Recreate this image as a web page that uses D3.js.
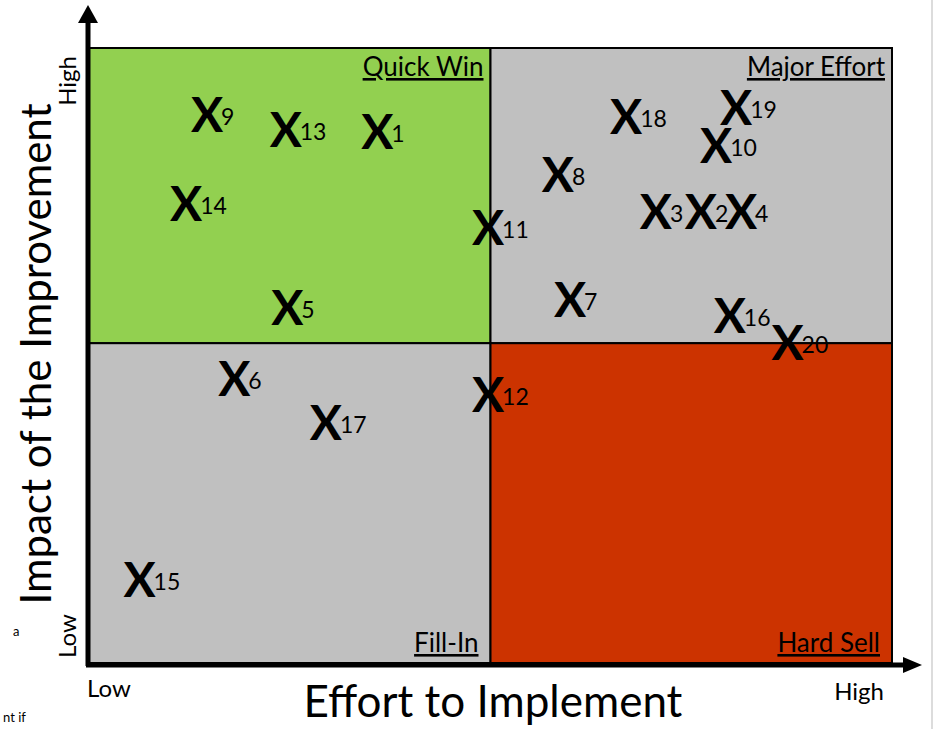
<!DOCTYPE html>
<html>
<head>
<meta charset="utf-8">
<script src="https://cdn.jsdelivr.net/npm/d3@7"></script>
<style>
  html, body { margin: 0; padding: 0; background: #fff; }
  svg { display: block; font-family: Lato, "Open Sans", sans-serif; }
</style>
</head>
<body>
<svg id="chart" width="934" height="729"></svg>
<script>
// ---- data ----
const itemIds = [1, 2, 3, 4, 5, 6, 7, 8, 9, 10, 11, 12, 13, 14, 15, 16, 17, 18, 19, 20];
const effort  = [3.59, 7.62, 7.06, 8.12, 2.47, 1.81, 5.99, 5.84, 1.47, 7.81, 4.97, 4.97, 2.45, 1.21, 0.63, 7.98, 2.95, 6.69, 8.06, 8.70];
const impact  = [8.63, 7.33, 7.33, 7.33, 5.78, 4.61, 5.91, 7.93, 8.91, 8.40, 7.08, 4.35, 8.66, 7.46, 1.35, 5.65, 3.91, 8.88, 9.02, 5.20];
const quadrantNames = ["Quick Win", "Major Effort", "Fill-In", "Hard Sell"];
const quadrantX0 = [0, 5, 0, 5];
const quadrantX1 = [5, 10, 5, 10];
const quadrantY0 = [5.2, 5.2, 0, 0];
const quadrantY1 = [10, 10, 5.2, 5.2];
const quadrantColors = ["#92D050", "#C0C0C0", "#C0C0C0", "#CC3300"];
const axisLowHigh = ["Low", "High"];
const xTitle = "Effort to Implement";
const yTitle = "Impact of the Improvement";

const svg = d3.select("#chart");
const x = d3.scaleLinear().domain([0, 10]).range([89, 892]);
const y = d3.scaleLinear().domain([0, 10]).range([663, 48]);

// faint page edge line at right
svg.append("line").attr("x1", 932).attr("x2", 932).attr("y1", 0).attr("y2", 729)
  .attr("stroke", "#dcdcdc").attr("stroke-width", 2);

// quadrants
const quads = quadrantNames.map((n, i) => ({name: n, x0: quadrantX0[i], x1: quadrantX1[i], y0: quadrantY0[i], y1: quadrantY1[i], color: quadrantColors[i]}));
svg.selectAll("rect.quad").data(quads).enter().append("rect")
  .attr("class", "quad")
  .attr("x", d => x(d.x0)).attr("y", d => y(d.y1))
  .attr("width", d => x(d.x1) - x(d.x0)).attr("height", d => y(d.y0) - y(d.y1))
  .attr("fill", d => d.color).attr("stroke", "#000").attr("stroke-width", 2);

// quadrant labels (underlined, right-aligned)
svg.selectAll("text.qlabel").data(quads).enter().append("text")
  .attr("class", "qlabel")
  .attr("x", d => x(d.x1) - (d.y1 === 10 ? 7 : 12))
  .attr("y", d => d.y1 === 10 ? y(d.y1) + 28 : y(d.y0) - 11)
  .attr("text-anchor", "end")
  .attr("font-size", 26)
  .attr("text-decoration", "underline")
  .attr("fill", "#000")
  .text(d => d.name);

// axes with arrows
svg.append("line").attr("x1", 88).attr("x2", 88).attr("y1", y(0) + 3).attr("y2", 22)
  .attr("stroke", "#000").attr("stroke-width", 5);
svg.append("path").attr("d", "M78,23 L88,5 L98,23 Z").attr("fill", "#000");
svg.append("line").attr("x1", 86).attr("x2", 905).attr("y1", 665).attr("y2", 665)
  .attr("stroke", "#000").attr("stroke-width", 5);
svg.append("path").attr("d", "M903,657 L922,665 L903,673 Z").attr("fill", "#000");

// Low / High labels
svg.append("text").attr("x", 87).attr("y", 697).attr("font-size", 24).text(axisLowHigh[0]);
svg.append("text").attr("x", 884).attr("y", 700).attr("text-anchor", "end").attr("font-size", 24).text(axisLowHigh[1]);
svg.append("text").attr("transform", "translate(76,658) rotate(-90)").attr("font-size", 24).text(axisLowHigh[0]);
svg.append("text").attr("transform", "translate(76,56) rotate(-90)").attr("text-anchor", "end").attr("font-size", 24).text(axisLowHigh[1]);

// axis titles
svg.append("text").attr("x", 493).attr("y", 717).attr("text-anchor", "middle").attr("font-size", 44).text(xTitle);
svg.append("text").attr("transform", "translate(51,354) rotate(-90)").attr("text-anchor", "middle").attr("font-size", 42).text(yTitle);

// stray page fragments
svg.append("text").attr("x", 13).attr("y", 636).attr("font-size", 13).text("a");
svg.append("text").attr("x", 3).attr("y", 722).attr("font-size", 13).text("nt if");

// points
const pts = itemIds.map((id, i) => ({id, ex: effort[i], im: impact[i]}));
const g = svg.selectAll("g.pt").data(pts).enter().append("g").attr("class", "pt")
  .attr("transform", d => `translate(${x(d.ex)},${y(d.im)})`);
g.append("text").attr("text-anchor", "middle").attr("y", 17)
  .attr("font-size", 48).attr("font-weight", 700).attr("fill", "#000").text("X");
g.append("text").attr("x", 14).attr("y", 10)
  .attr("font-size", 23).attr("fill", "#000").text(d => d.id);
</script>
</body>
</html>
